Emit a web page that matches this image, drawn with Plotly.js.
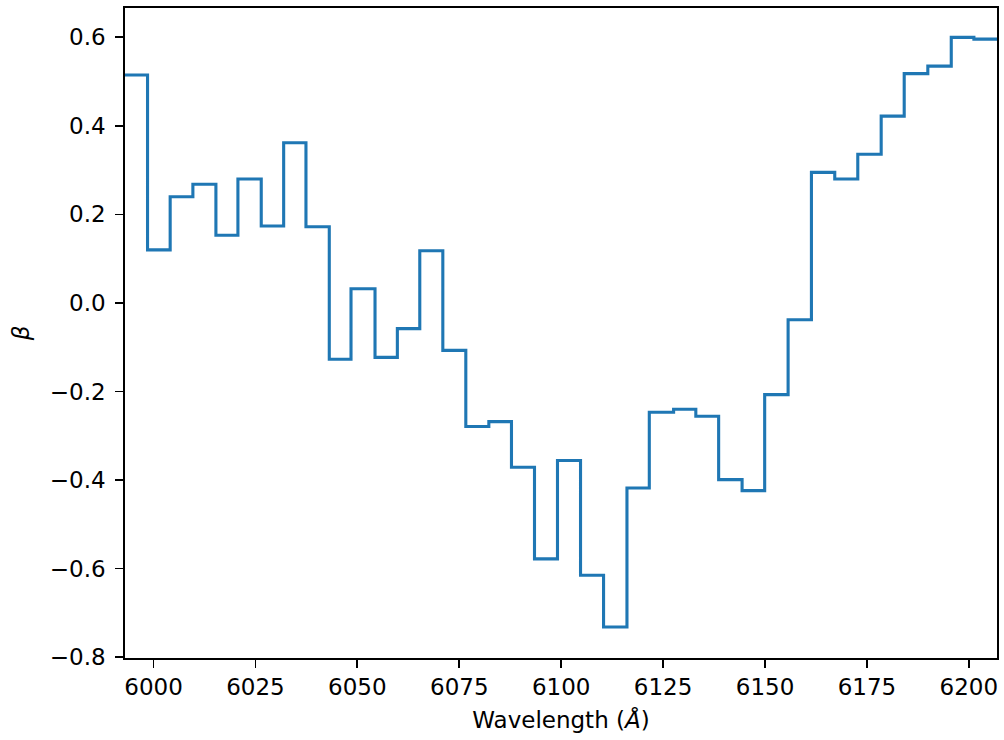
<!DOCTYPE html>
<html>
<head>
<meta charset="utf-8">
<script src="https://cdn.plot.ly/plotly-3.0.1.min.js"></script>
<style>html,body{margin:0;padding:0;background:#fff;}#chart{width:1004px;height:740px;}</style>
</head>
<body>
<div id="chart"></div>
<script>
// Bin edges in wavelength (Angstrom)
const binEdges = [5992.98, 5998.53, 6004.08, 6009.65, 6015.30, 6020.70, 6026.42, 6031.92, 6037.39,
  6043.11, 6048.44, 6054.33, 6059.81, 6065.31, 6070.96, 6076.60, 6082.25, 6087.80, 6093.45,
  6099.09, 6104.74, 6110.39, 6116.13, 6121.61, 6127.57, 6133.02, 6138.62, 6144.37, 6149.91,
  6155.66, 6161.38, 6167.10, 6172.75, 6178.49, 6184.14, 6189.93, 6195.68, 6201.23, 6206.90];
// beta value in each bin
const beta = [0.515, 0.120, 0.240, 0.268, 0.153, 0.280, 0.174, 0.362, 0.172,
  -0.127, 0.032, -0.123, -0.058, 0.118, -0.107, -0.279, -0.268, -0.371, -0.578,
  -0.356, -0.615, -0.732, -0.418, -0.247, -0.240, -0.256, -0.399, -0.424, -0.207,
  -0.038, 0.295, 0.280, 0.336, 0.422, 0.518, 0.535, 0.600, 0.596];
const xTicks = [6000, 6025, 6050, 6075, 6100, 6125, 6150, 6175, 6200];
const yTicks = [-0.8, -0.6, -0.4, -0.2, 0.0, 0.2, 0.4, 0.6];

const yStep = beta.concat([beta[beta.length - 1]]);

const FONT = 'DejaVu Sans, sans-serif';
const trace = {
  x: binEdges, y: yStep, type: 'scatter', mode: 'lines',
  line: {shape: 'hv', color: '#1f77b4', width: 3.1},
  hoverinfo: 'skip'
};
const layout = {
  width: 1004, height: 740,
  margin: {l: 125, r: 7, t: 8, b: 82, pad: 0},
  paper_bgcolor: '#fff', plot_bgcolor: '#fff',
  showlegend: false,
  font: {family: FONT, size: 23, color: '#000'},
  xaxis: {
    range: [5993.0, 6206.9], tickvals: xTicks, ticktext: xTicks.map(String),
    showgrid: false, zeroline: false, showline: true, mirror: true,
    linecolor: '#000', linewidth: 1.8, ticks: 'outside', ticklen: 8, tickwidth: 1.8, tickcolor: '#000',
    title: {text: 'Wavelength (<i>Å</i>)', font: {family: FONT, size: 23, color: '#000'}, standoff: 12},
    automargin: false
  },
  yaxis: {
    range: [-0.802, 0.6663], tickvals: yTicks, ticktext: yTicks.map(v => (v < 0 ? '\u2212' : '') + Math.abs(v).toFixed(1)),
    showgrid: false, zeroline: false, showline: true, mirror: true,
    linecolor: '#000', linewidth: 1.8, ticks: 'outside', ticklen: 8, tickwidth: 1.8, tickcolor: '#000',
    ticklabelstandoff: 5,
    title: {text: '<i>β</i>', font: {family: FONT, size: 23, color: '#000'}, standoff: 14},
    automargin: false
  }
};
Plotly.newPlot('chart', [trace], layout, {staticPlot: true, displayModeBar: false});
</script>
</body>
</html>
